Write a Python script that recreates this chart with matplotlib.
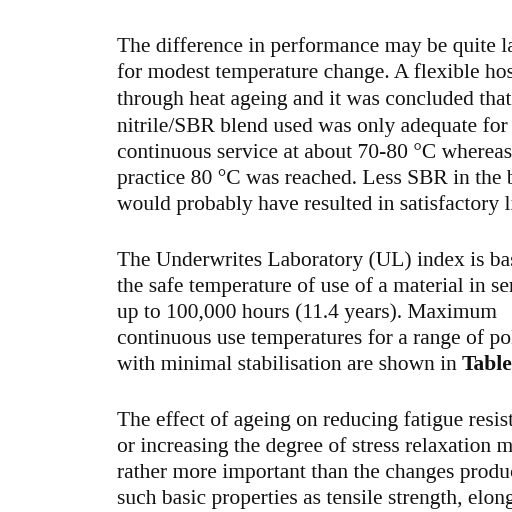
import matplotlib
matplotlib.use("Agg")
import matplotlib.pyplot as plt

lines = [
    (52, "The difference in performance may be quite large"),
    (78, "for modest temperature change. A flexible hose failed"),
    (105, "through heat ageing and it was concluded that the"),
    (132, "nitrile/SBR blend used was only adequate for"),
    (158, "continuous service at about 70-80 °C whereas in"),
    (184, "practice 80 °C was reached. Less SBR in the blend"),
    (210, "would probably have resulted in satisfactory life."),
    (266, "The Underwrites Laboratory (UL) index is based on"),
    (292, "the safe temperature of use of a material in service"),
    (318, "up to 100,000 hours (11.4 years). Maximum"),
    (344, "continuous use temperatures for a range of polymers"),
    (370, "with minimal stabilisation are shown in "),
    (426, "The effect of ageing on reducing fatigue resistance"),
    (452, "or increasing the degree of stress relaxation may be"),
    (478, "rather more important than the changes produced in"),
    (504, "such basic properties as tensile strength, elongation"),
]

fig = plt.figure(figsize=(5.12, 5.12), dpi=100)
fig.patch.set_facecolor("white")
for y, s in lines:
    t = fig.text(117 / 512, 1 - y / 512, s, family="Liberation Serif",
                 fontsize=15.5, va="baseline", ha="left", color="#111111")
    if y == 370:
        fig.canvas.draw()
        bb = t.get_window_extent()
        fig.text(bb.x1 / 512, 1 - y / 512, "Table", family="Liberation Serif",
                 fontsize=15.5, va="baseline", ha="left", weight="bold", color="#111111")
fig.savefig("out.png", dpi=100)
